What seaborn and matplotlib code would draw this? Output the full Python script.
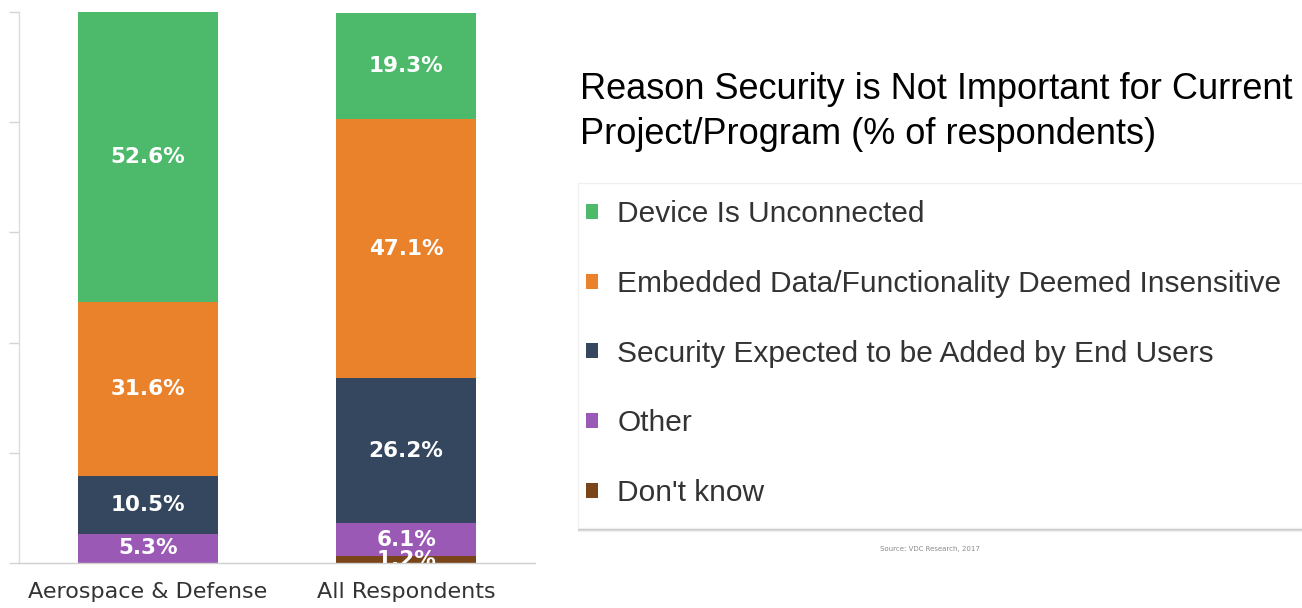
import matplotlib
matplotlib.use("Agg")
import matplotlib.pyplot as plt
import seaborn as sns
from matplotlib.patches import Patch, Rectangle

# ---------------- data ----------------
categories = ["Aerospace & Defense", "All Respondents"]
legend_labels = [
    "Device Is Unconnected",
    "Embedded Data/Functionality Deemed Insensitive",
    "Security Expected to be Added by End Users",
    "Other",
    "Don't know",
]
unconnected = [52.6, 19.3]
insensitive = [31.6, 47.1]
end_users = [10.5, 26.2]
other = [5.3, 6.1]
dont_know = [0.0, 1.2]
title_text = "Reason Security is Not Important for Current\nProject/Program (% of respondents)"
source_text = "Source: VDC Research, 2017"

colors = {
    "Device Is Unconnected": "#4DB96B",
    "Embedded Data/Functionality Deemed Insensitive": "#E9822B",
    "Security Expected to be Added by End Users": "#35475E",
    "Other": "#9B59B6",
    "Don't know": "#7A4519",
}

# stacking order: bottom -> top
stack = [
    ("Don't know", dont_know),
    ("Other", other),
    ("Security Expected to be Added by End Users", end_users),
    ("Embedded Data/Functionality Deemed Insensitive", insensitive),
    ("Device Is Unconnected", unconnected),
]

sns.set_theme(style="white")
plt.rcParams["font.family"] = ["DejaVu Sans"]

W, H = 1302, 608
fig = plt.figure(figsize=(W / 100, H / 100), dpi=100)
ax = fig.add_axes([19 / W, 45 / H, 516 / W, 551 / H])

bottom = [0.0, 0.0]
for name, vals in stack:
    sns.barplot(x=categories, y=vals, bottom=bottom, color=colors[name],
                saturation=1, width=0.54, errorbar=None, linewidth=0, ax=ax)
    for i, v in enumerate(vals):
        if v > 0:
            ax.text(i, bottom[i] + v / 2, f"{v:.1f}%", ha="center", va="center",
                    color="white", fontsize=15.5, fontweight="bold",
                    clip_on=True)
    bottom = [b + v for b, v in zip(bottom, vals)]

ax.set_xlim(-0.5, 1.5)
ax.set_ylim(0, 100)
ax.set_xlabel("")
ax.set_ylabel("")
ax.set_yticks(range(0, 101, 20))
ax.set_yticklabels([])
ax.tick_params(axis="y", left=True, length=7, width=1, color="#d4d4d4")
ax.tick_params(axis="x", length=0, pad=14, labelsize=16, labelcolor="#333333")
for s in ["top", "right"]:
    ax.spines[s].set_visible(False)
ax.spines["left"].set_color("#dcdcdc")
ax.spines["bottom"].set_color("#cfcfcf")
ax.spines["left"].set_linewidth(1)
ax.spines["bottom"].set_linewidth(1)

# title
fig.text(580 / W, 1 - 72 / H, title_text, ha="left", va="top", fontsize=26,
         family=["Liberation Sans", "DejaVu Sans"], color="black", linespacing=1.36)

# legend box with shadow
for k, a in [(4, 0.12), (3, 0.18), (2, 0.25)]:
    fig.add_artist(Rectangle((578 / W, (H - 528 - k) / H), (740) / W, (345) / H,
                             transform=fig.transFigure, facecolor="#808080",
                             edgecolor="none", alpha=a, zorder=1))
fig.add_artist(Rectangle((578 / W, (H - 528) / H), 740 / W, 345 / H,
                         transform=fig.transFigure, facecolor="white",
                         edgecolor="#f0f0f0", lw=1, zorder=2))

handles = [Patch(facecolor=colors[l], edgecolor="none", label=l) for l in legend_labels]
leg = fig.legend(handles=handles, loc="upper left",
                 bbox_to_anchor=(586 / W, 1 - 200 / H), bbox_transform=fig.transFigure,
                 frameon=False, prop={"family": ["Liberation Sans", "DejaVu Sans"], "size": 21.5},
                 labelspacing=1.4, handlelength=0.4, handleheight=0.4,
                 handletextpad=0.65, borderpad=0, borderaxespad=0, labelcolor="#333333")
leg.set_zorder(3)

fig.text(930 / W, 1 - 549 / H, source_text, ha="center", va="center",
         fontsize=5, color="#8a8a8a")

fig.savefig("out.png", dpi=100)
